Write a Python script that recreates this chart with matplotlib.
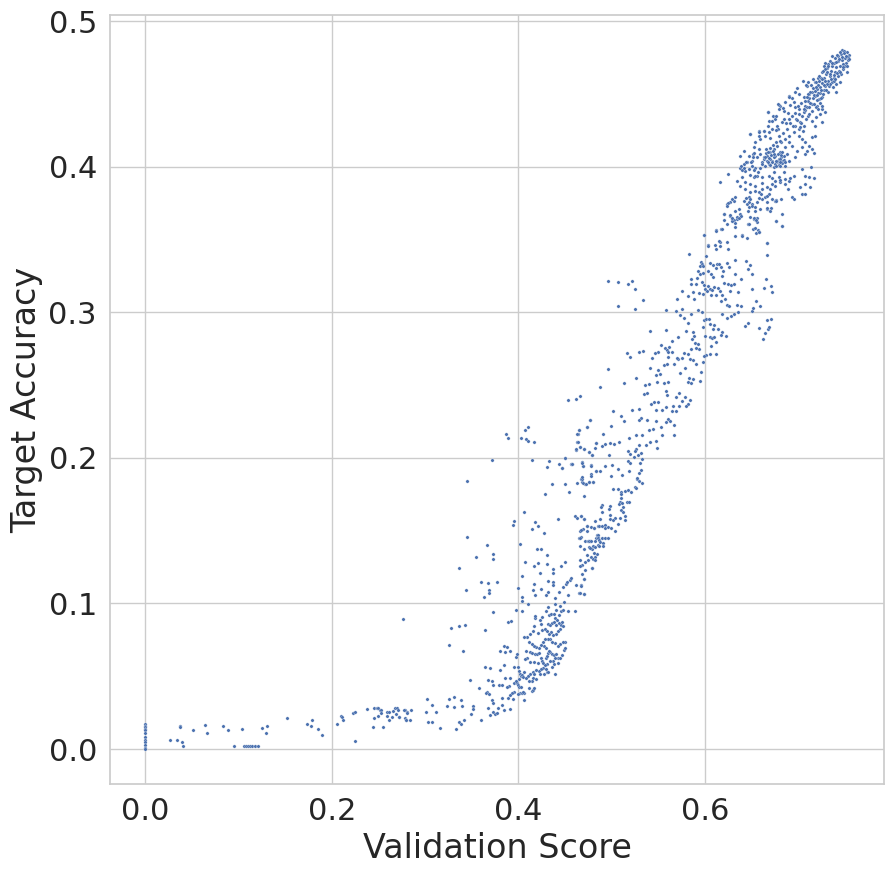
import matplotlib
matplotlib.use("Agg")
import matplotlib.pyplot as plt
import numpy as np
import seaborn as sns

# (validation score, target accuracy) pairs, grouped by region

# runs stuck at zero validation score
zero_score_acc = [0.017, 0.016, 0.015, 0.014, 0.013, 0.011, 0.008, 0.006, 0.005, 0.003, 0.001, 0.000]

low_tail = [
    (0.026, 0.006), (0.034, 0.006), (0.0375, 0.016), (0.0375, 0.015), (0.039, 0.0046), (0.040, 0.002),
    (0.051, 0.0128), (0.0636, 0.0162), (0.0657, 0.0108), (0.083, 0.016), (0.089, 0.0128), (0.0946, 0.002),
    (0.104, 0.0135), (0.106, 0.002), (0.108, 0.002), (0.110, 0.002), (0.112, 0.002), (0.114, 0.002),
    (0.118, 0.002), (0.121, 0.002), (0.1246, 0.0142), (0.129, 0.0108), (0.131, 0.016), (0.152, 0.021),
    (0.173, 0.017), (0.178, 0.0156), (0.179, 0.0197), (0.185, 0.0135), (0.189, 0.0094), (0.206, 0.017),
    (0.210, 0.0224), (0.211, 0.0217), (0.2125, 0.0197), (0.223, 0.0245), (0.225, 0.0252), (0.225, 0.0053),
    (0.238, 0.0272), (0.2446, 0.0149), (0.2457, 0.028), (0.248, 0.028), (0.250, 0.028), (0.252, 0.027),
    (0.253, 0.027), (0.2457, 0.021), (0.249, 0.0224), (0.253, 0.0245), (0.255, 0.0149), (0.2596, 0.0252),
    (0.2617, 0.0252), (0.2596, 0.0224), (0.2617, 0.020), (0.264, 0.0217), (0.266, 0.0259), (0.268, 0.028),
    (0.270, 0.028), (0.271, 0.027), (0.269, 0.0238), (0.272, 0.0217), (0.2767, 0.089), (0.278, 0.0265),
    (0.281, 0.0252), (0.278, 0.021), (0.280, 0.020),
    (0.3025, 0.0347), (0.3078, 0.0306), (0.3121, 0.0258), (0.3014, 0.0258), (0.3260, 0.0347), (0.3314, 0.0361),
    (0.3389, 0.034), (0.3399, 0.0299), (0.3239, 0.0299), (0.3314, 0.0286), (0.3517, 0.0299), (0.3517, 0.0272),
    (0.3496, 0.0238), (0.3421, 0.0203), (0.3367, 0.0189), (0.3389, 0.0169), (0.3335, 0.0135), (0.3164, 0.0148),
    (0.3078, 0.0183), (0.3035, 0.0189), (0.3603, 0.0203), (0.2853, 0.0265), (0.2810, 0.0251), (0.2778, 0.0265),
    (0.2800, 0.0203), (0.2842, 0.0203), (0.2721, 0.0217),
]

knee = [
    (0.372, 0.0334), (0.3731, 0.0313), (0.3678, 0.0279), (0.3731, 0.0258), (0.3753, 0.0244), (0.3774, 0.0251),
    (0.3699, 0.0231), (0.3828, 0.0354), (0.3828, 0.0306), (0.3892, 0.0354), (0.3903, 0.0436), (0.3882, 0.0423),
    (0.3860, 0.0491), (0.3914, 0.0491), (0.3957, 0.0457), (0.3946, 0.0347), (0.3849, 0.0265), (0.3914, 0.0272),
    (0.3785, 0.0279), (0.3582, 0.0416), (0.3678, 0.0477), (0.372, 0.047), (0.3667, 0.0395), (0.3657, 0.0388),
    (0.369, 0.0375), (0.373, 0.0437), (0.3796, 0.0443), (0.3828, 0.0443), (0.3485, 0.0477), (0.3646, 0.0567),
    (0.37, 0.056), (0.385, 0.0574), (0.3806, 0.0546), (0.326, 0.0718), (0.341, 0.0677), (0.3806, 0.0677),
    (0.3849, 0.0711), (0.3881, 0.0704), (0.386, 0.067), (0.3914, 0.0677), (0.3282, 0.0834), (0.3367, 0.0848),
    (0.3432, 0.0855), (0.3646, 0.0821), (0.3732, 0.094), (0.3892, 0.0875), (0.3924, 0.0882),
    (0.3978, 0.0635), (0.3989, 0.0656), (0.4, 0.0567), (0.4010, 0.0539), (0.4021, 0.0519), (0.4031, 0.0505),
    (0.4042, 0.0512), (0.4053, 0.0498), (0.4064, 0.0532), (0.4010, 0.0484), (0.3989, 0.0457), (0.4, 0.0443),
    (0.4010, 0.0423), (0.4021, 0.0382), (0.4042, 0.0382), (0.4064, 0.0382), (0.4053, 0.0395), (0.4, 0.0375),
    (0.4064, 0.0334), (0.3978, 0.047), (0.4085, 0.0677), (0.4128, 0.067), (0.4149, 0.0663), (0.4181, 0.0656),
    (0.4203, 0.0656), (0.4224, 0.0663), (0.4096, 0.0628), (0.4074, 0.0622), (0.4128, 0.0601), (0.4171, 0.0601),
    (0.4214, 0.0594), (0.4246, 0.0628), (0.4256, 0.0608), (0.4267, 0.0594), (0.4299, 0.0628), (0.431, 0.0642),
    (0.4321, 0.0663), (0.4342, 0.067), (0.4364, 0.0656), (0.4385, 0.0649), (0.4406, 0.0656), (0.4428, 0.0628),
    (0.4396, 0.0628), (0.4374, 0.0608), (0.4342, 0.0608), (0.431, 0.0587), (0.4289, 0.0574), (0.4267, 0.056),
    (0.4246, 0.0553), (0.4224, 0.0539), (0.4192, 0.0546), (0.416, 0.0532), (0.4128, 0.0519), (0.4107, 0.0505),
    (0.4085, 0.0491), (0.416, 0.0491), (0.4192, 0.0484), (0.4171, 0.0519), (0.4149, 0.047), (0.4117, 0.047),
    (0.4235, 0.0519), (0.4278, 0.0519), (0.431, 0.0526), (0.4299, 0.0553), (0.4321, 0.0532), (0.4364, 0.0567),
    (0.4385, 0.0587), (0.4396, 0.0519), (0.4428, 0.0594), (0.4449, 0.0628), (0.4471, 0.0649), (0.4492, 0.0683),
    (0.4503, 0.0697), (0.4503, 0.0738), (0.4481, 0.0738), (0.4449, 0.0724), (0.4428, 0.0711), (0.4396, 0.0731),
    (0.4364, 0.0738), (0.4342, 0.0759), (0.4321, 0.0759), (0.4289, 0.0759), (0.4267, 0.0738), (0.4278, 0.0711),
    (0.4299, 0.0697), (0.4331, 0.0677), (0.4246, 0.0718), (0.4224, 0.0697), (0.4192, 0.0704), (0.4171, 0.0711),
    (0.4149, 0.0724), (0.4117, 0.0738), (0.4096, 0.0773), (0.4064, 0.0773), (0.4128, 0.0793), (0.416, 0.0814),
    (0.4214, 0.08), (0.4256, 0.0821), (0.4289, 0.0827), (0.4321, 0.0862), (0.4342, 0.0855), (0.4364, 0.0869),
    (0.4385, 0.0875), (0.4406, 0.0855), (0.4439, 0.0869), (0.446, 0.0855), (0.4471, 0.0875), (0.4481, 0.0848),
    (0.4449, 0.0827), (0.4428, 0.0814), (0.4406, 0.0793), (0.4374, 0.0786), (0.4353, 0.0807), (0.4331, 0.0793),
    (0.431, 0.0814), (0.4246, 0.0862), (0.4235, 0.0889), (0.4181, 0.0903), (0.4181, 0.0917), (0.4171, 0.0848),
    (0.4256, 0.091), (0.4299, 0.0951), (0.4321, 0.0978), (0.4331, 0.0923), (0.4353, 0.093), (0.4385, 0.093),
    (0.4396, 0.0903), (0.4417, 0.0889), (0.4439, 0.0923), (0.4406, 0.0958), (0.446, 0.0951), (0.4149, 0.0402),
    (0.416, 0.0409), (0.4171, 0.0416), (0.4117, 0.0416), (0.4031, 0.0429), (0.3957, 0.0395), (0.3935, 0.0382),
    (0.3914, 0.0368), (0.3957, 0.0567),
]

lower_rise = [
    (0.387, 0.2167), (0.389, 0.2137), (0.403, 0.2137), (0.4074, 0.2192), (0.4107, 0.2213), (0.4085, 0.213),
    (0.4107, 0.2117), (0.417, 0.211), (0.372, 0.1986), (0.415, 0.1986), (0.3453, 0.1843), (0.4306, 0.1938),
    (0.433, 0.198), (0.444, 0.1959), (0.447, 0.1932), (0.450, 0.2), (0.4567, 0.1959), (0.458, 0.1959),
    (0.462, 0.2055), (0.463, 0.211), (0.465, 0.2192), (0.4664, 0.2076), (0.4642, 0.2165), (0.4706, 0.2062),
    (0.474, 0.2213), (0.476, 0.2041), (0.477, 0.2261), (0.479, 0.202), (0.4835, 0.2103), (0.4835, 0.1911),
    (0.4685, 0.1973), (0.4696, 0.1945), (0.478, 0.1952), (0.478, 0.189), (0.436, 0.1822), (0.450, 0.1822),
    (0.4546, 0.1767), (0.4289, 0.1753), (0.463, 0.1829), (0.4674, 0.1856), (0.4685, 0.1836), (0.4717, 0.1822),
    (0.476, 0.1836), (0.4803, 0.1836), (0.4706, 0.174), (0.4064, 0.163), (0.3957, 0.1568), (0.3946, 0.154),
    (0.4181, 0.1561), (0.4214, 0.1534), (0.415, 0.1513), (0.4278, 0.1486), (0.4428, 0.1582), (0.461, 0.1602),
    (0.463, 0.1589), (0.4674, 0.1602), (0.4706, 0.1582), (0.4738, 0.1534), (0.4664, 0.15), (0.4696, 0.1513),
    (0.478, 0.1527), (0.4813, 0.152), (0.4856, 0.1534), (0.4653, 0.1452), (0.4674, 0.1458), (0.4717, 0.1431),
    (0.4749, 0.1431), (0.477, 0.1431), (0.4792, 0.1376), (0.4803, 0.1397), (0.4835, 0.1452), (0.4846, 0.1472),
    (0.4856, 0.1458), (0.3453, 0.1458), (0.3667, 0.1403), (0.3732, 0.1342), (0.3732, 0.1308), (0.355, 0.1321),
    (0.3367, 0.1246), (0.3442, 0.1095), (0.3603, 0.115), (0.3678, 0.1143), (0.3774, 0.115), (0.3689, 0.1095),
    (0.3689, 0.1074), (0.3635, 0.1047), (0.4021, 0.141), (0.4, 0.1109), (0.4042, 0.1191), (0.4074, 0.1287),
    (0.4171, 0.1259), (0.4214, 0.128), (0.4203, 0.1376), (0.4246, 0.1376), (0.431, 0.1335), (0.431, 0.1273),
    (0.4235, 0.1211), (0.4321, 0.1157), (0.4374, 0.1239), (0.4374, 0.1211), (0.4374, 0.115), (0.4374, 0.1129),
    (0.446, 0.126), (0.45, 0.1287), (0.417, 0.1136), (0.416, 0.1095), (0.4181, 0.106), (0.4246, 0.1102),
    (0.4299, 0.106), (0.432, 0.1081), (0.4042, 0.1047), (0.4042, 0.102), (0.4107, 0.0999), (0.3978, 0.0958),
    (0.4042, 0.0951), (0.4481, 0.1116), (0.4514, 0.1136), (0.4557, 0.1163), (0.4567, 0.1177), (0.4524, 0.115),
    (0.4439, 0.1081), (0.4535, 0.106), (0.4492, 0.1013), (0.4396, 0.104), (0.462, 0.1129), (0.4674, 0.1129),
    (0.4706, 0.1067), (0.4653, 0.1074), (0.4706, 0.117), (0.4664, 0.13), (0.4685, 0.1266), (0.4738, 0.1335),
    (0.476, 0.139), (0.479, 0.1246), (0.4824, 0.1321), (0.4845, 0.1342), (0.4856, 0.1401), (0.4824, 0.1431),
    (0.445, 0.0985), (0.4481, 0.0958), (0.4535, 0.0951), (0.461, 0.0951), (0.4396, 0.0996),
    (0.4685, 0.1856), (0.4695, 0.1829), (0.4728, 0.1822), (0.476, 0.1836), (0.4803, 0.1836), (0.5017, 0.1788),
    (0.5070, 0.1788), (0.5102, 0.1767), (0.5102, 0.1753), (0.5145, 0.1774), (0.5177, 0.1781), (0.5210, 0.1767),
    (0.5252, 0.1802), (0.5263, 0.1795), (0.5327, 0.1829), (0.5295, 0.1843), (0.5274, 0.1856), (0.5102, 0.1726),
    (0.5092, 0.1699), (0.5081, 0.1685), (0.5113, 0.1692), (0.5167, 0.1699), (0.5188, 0.1699), (0.5124, 0.1664),
    (0.5102, 0.1644), (0.5124, 0.163), (0.5145, 0.1603), (0.5145, 0.1575), (0.5092, 0.1589), (0.5038, 0.1589),
    (0.507, 0.1548), (0.4985, 0.1671), (0.4974, 0.1651), (0.4985, 0.161), (0.4985, 0.1582), (0.5017, 0.1575),
    (0.4899, 0.1678), (0.4888, 0.1664), (0.4899, 0.163), (0.4674, 0.1603), (0.4706, 0.1582), (0.4824, 0.1568),
    (0.4878, 0.1582), (0.4813, 0.152), (0.4867, 0.1534), (0.4899, 0.1534), (0.4931, 0.1541), (0.4931, 0.152),
    (0.4963, 0.1527), (0.4995, 0.152), (0.5038, 0.15), (0.4674, 0.1507), (0.4738, 0.15), (0.4738, 0.1534),
    (0.4663, 0.1452), (0.476, 0.1431), (0.4781, 0.1431), (0.4856, 0.1472), (0.4856, 0.1452), (0.4867, 0.1438),
    (0.4899, 0.1452), (0.4931, 0.1452), (0.4963, 0.1452), (0.4878, 0.1424), (0.4910, 0.1417), (0.4867, 0.1397),
    (0.4910, 0.1397), (0.4824, 0.139), (0.477, 0.1383), (0.4706, 0.1376), (0.4663, 0.1397), (0.4813, 0.1349),
    (0.4781, 0.1321), (0.4749, 0.1301), (0.4717, 0.1287), (0.4803, 0.1308), (0.4824, 0.1301), (0.4663, 0.126),
    (0.4717, 0.1232), (0.4792, 0.1246), (0.4685, 0.1205), (0.4706, 0.1171), (0.4674, 0.1123), (0.4663, 0.1075),
    (0.4706, 0.1068),
]

mid_band = [
    (0.6206, 0.3633), (0.6292, 0.3642), (0.6313, 0.3633), (0.6345, 0.3642), (0.6324, 0.3612), (0.6527, 0.3642),
    (0.6463, 0.3605), (0.6517, 0.3571), (0.656, 0.3619), (0.657, 0.3564), (0.6549, 0.3544), (0.6581, 0.3551),
    (0.6763, 0.3626), (0.6827, 0.3592), (0.5992, 0.353), (0.612, 0.3564), (0.6174, 0.3571), (0.6324, 0.3523),
    (0.6399, 0.353), (0.6453, 0.351), (0.6163, 0.3482), (0.6238, 0.3482), (0.6163, 0.3455), (0.612, 0.3434),
    (0.6249, 0.3434), (0.6035, 0.3461), (0.5831, 0.34), (0.6013, 0.3386), (0.6667, 0.3475), (0.6667, 0.3393),
    (0.6324, 0.3358), (0.6442, 0.3352), (0.6485, 0.3324), (0.6463, 0.3297), (0.6506, 0.3262), (0.596, 0.3345),
    (0.5971, 0.3331), (0.595, 0.3317), (0.5981, 0.3317), (0.5928, 0.3283), (0.595, 0.3262), (0.5981, 0.3269),
    (0.6035, 0.3283), (0.6056, 0.3338), (0.6088, 0.3324), (0.613, 0.3331), (0.6153, 0.3331), (0.6174, 0.331),
    (0.6195, 0.3283), (0.626, 0.331), (0.6238, 0.3338), (0.612, 0.3304), (0.6067, 0.3262), (0.6088, 0.3242),
    (0.6185, 0.3249), (0.6206, 0.3201), (0.625, 0.3194), (0.628, 0.3187), (0.6313, 0.3194), (0.6324, 0.3262),
    (0.6388, 0.3228), (0.5917, 0.3235), (0.5853, 0.3228), (0.5853, 0.3194), (0.5906, 0.3194), (0.5971, 0.3208),
    (0.5992, 0.3187), (0.6003, 0.316), (0.6035, 0.3180), (0.6056, 0.316), (0.6078, 0.3153), (0.6099, 0.3173),
    (0.6142, 0.3166), (0.6163, 0.3146), (0.6185, 0.3118), (0.612, 0.3118), (0.6067, 0.3118), (0.6024, 0.3146),
    (0.5981, 0.3125), (0.5938, 0.3132), (0.5874, 0.3139), (0.582, 0.3112), (0.5885, 0.3091), (0.5756, 0.3146),
    (0.5703, 0.3091), (0.627, 0.3146), (0.6217, 0.3091), (0.6174, 0.3077), (0.6238, 0.3050), (0.626, 0.3043),
    (0.6345, 0.305), (0.6388, 0.3043), (0.6356, 0.3139), (0.6506, 0.316), (0.6549, 0.3077), (0.6592, 0.3043),
    (0.6656, 0.3228), (0.671, 0.3180), (0.672, 0.3139), (0.6635, 0.3166), (0.6506, 0.3009), (0.6517, 0.303),
    (0.6667, 0.2947), (0.671, 0.2954), (0.6677, 0.2885), (0.6688, 0.2899), (0.6646, 0.2858), (0.6624, 0.2817),
    (0.6581, 0.2892), (0.6463, 0.2926), (0.6431, 0.2906), (0.6185, 0.2988), (0.6238, 0.2961), (0.628, 0.2974),
    (0.6313, 0.2988), (0.6356, 0.3002), (0.6056, 0.292), (0.6099, 0.2913), (0.6088, 0.2885), (0.6142, 0.2885),
    (0.6185, 0.2865), (0.6228, 0.2837), (0.6174, 0.2844), (0.6056, 0.2830), (0.6078, 0.2824), (0.6099, 0.283),
    (0.612, 0.2796), (0.6067, 0.2769), (0.612, 0.2714), (0.6056, 0.2714), (0.6013, 0.2707), (0.5992, 0.27),
    (0.5981, 0.2659), (0.6003, 0.2837), (0.5981, 0.2899), (0.5992, 0.2947), (0.6013, 0.2954), (0.6045, 0.2954),
    (0.5971, 0.3002), (0.5928, 0.3016), (0.5853, 0.2988), (0.582, 0.2926), (0.5799, 0.2872), (0.5874, 0.2865),
    (0.5885, 0.2837), (0.5863, 0.2817), (0.5896, 0.2789), (0.5928, 0.2782), (0.5938, 0.2748), (0.5906, 0.2755),
    (0.5853, 0.2748), (0.582, 0.2714), (0.5778, 0.2721), (0.5756, 0.2686), (0.5713, 0.2679), (0.567, 0.2645),
    (0.5735, 0.2583), (0.5788, 0.2618), (0.5842, 0.2679), (0.5874, 0.2673), (0.5906, 0.2645), (0.596, 0.259),
    (0.595, 0.2529), (0.5874, 0.2542), (0.5831, 0.2549), (0.582, 0.2522), (0.5853, 0.2515), (0.4963, 0.3214),
    (0.507, 0.3208), (0.5178, 0.3194), (0.522, 0.3214), (0.5253, 0.316), (0.5338, 0.3084), (0.507, 0.3043),
    (0.5253, 0.3022), (0.5585, 0.3016), (0.5692, 0.3009), (0.5735, 0.2981), (0.5756, 0.3022), (0.5778, 0.2961),
    (0.5413, 0.2872), (0.5585, 0.2878), (0.5649, 0.2803), (0.5713, 0.283), (0.5617, 0.2762), (0.5574, 0.2755),
    (0.5596, 0.2741), (0.5531, 0.2775), (0.5606, 0.2727), (0.5649, 0.2727), (0.5703, 0.2686), (0.5606, 0.2693),
    (0.5563, 0.2638), (0.5596, 0.2645), (0.5499, 0.2727), (0.5467, 0.2721), (0.5435, 0.2686), (0.5338, 0.2734),
    (0.5296, 0.2727), (0.5167, 0.2721), (0.5199, 0.2693), (0.4963, 0.2611), (0.5413, 0.2618), (0.5499, 0.2604),
    (0.5521, 0.2577), (0.5478, 0.257), (0.5488, 0.2522), (0.5563, 0.2515), (0.5606, 0.2522), (0.5263, 0.2549),
    (0.5135, 0.2515), (0.4878, 0.2487), (0.536, 0.2501), (0.5403, 0.2508), (0.5349, 0.2439), (0.5381, 0.2446),
    (0.5585, 0.246), (0.5596, 0.2433), (0.5724, 0.2446), (0.5692, 0.2419), (0.5756, 0.2391), (0.5788, 0.2419),
    (0.5842, 0.2398), (0.582, 0.2371), (0.5799, 0.2357), (0.5724, 0.2357), (0.566, 0.2357), (0.5692, 0.2323),
    (0.5649, 0.2323), (0.5585, 0.235), (0.5606, 0.2268), (0.5628, 0.2254), (0.5585, 0.2247), (0.567, 0.2227),
    (0.567, 0.2158), (0.5531, 0.2213), (0.5478, 0.2254), (0.5542, 0.2158), (0.5478, 0.2117), (0.5488, 0.2069),
    (0.5381, 0.2261), (0.5317, 0.2275), (0.5296, 0.2261), (0.5446, 0.2199), (0.5403, 0.2192), (0.5328, 0.2158),
    (0.5263, 0.2158), (0.5188, 0.2138), (0.5413, 0.211), (0.5371, 0.2089), (0.5296, 0.2089), (0.5263, 0.2062),
    (0.5253, 0.2048), (0.5285, 0.2021), (0.5317, 0.2035), (0.5328, 0.1994), (0.5178, 0.2048), (0.5199, 0.2028),
    (0.5242, 0.2007), (0.5178, 0.198), (0.5135, 0.2254), (0.5103, 0.2289), (0.5017, 0.2323), (0.522, 0.2329),
    (0.5296, 0.2337), (0.5424, 0.2371), (0.5478, 0.233), (0.5542, 0.233), (0.5499, 0.2385), (0.5456, 0.2385),
    (0.4996, 0.222), (0.491, 0.2165), (0.4835, 0.2103), (0.4824, 0.2069), (0.476, 0.2042), (0.4792, 0.2021),
    (0.4706, 0.2062), (0.4664, 0.2076), (0.4642, 0.211), (0.4621, 0.2062), (0.4653, 0.2192), (0.4631, 0.2165),
    (0.4739, 0.2213), (0.4771, 0.2261), (0.4899, 0.2083), (0.4931, 0.2097), (0.4985, 0.2103), (0.5028, 0.2097),
    (0.5081, 0.211), (0.4974, 0.2021), (0.4931, 0.1946), (0.5006, 0.1952), (0.5071, 0.1925), (0.4996, 0.1877),
    (0.5113, 0.1884), (0.5188, 0.1911), (0.5199, 0.1966), (0.5306, 0.1966), (0.5317, 0.1918), (0.5296, 0.1898),
    (0.5274, 0.1863), (0.4878, 0.1911), (0.4835, 0.1911), (0.4781, 0.1946), (0.4696, 0.1946), (0.4685, 0.1966),
    (0.4578, 0.1959), (0.4503, 0.2), (0.4471, 0.1932), (0.4535, 0.2398), (0.4621, 0.2405), (0.4664, 0.2426),
    (0.4781, 0.1877), (0.4685, 0.187),
]

upper_band = [
    (0.7052, 0.4586), (0.718, 0.4579), (0.7213, 0.4607), (0.7095, 0.4552), (0.6988, 0.4538), (0.6966, 0.4511),
    (0.6902, 0.4483), (0.6934, 0.4469), (0.7009, 0.4497), (0.7063, 0.4476), (0.7116, 0.4497), (0.7148, 0.4511),
    (0.7184, 0.4488), (0.722, 0.4465), (0.7255, 0.4476), (0.7105, 0.4453), (0.7148, 0.443), (0.7202, 0.4419),
    (0.7255, 0.4396), (0.7291, 0.4378), (0.7234, 0.4362), (0.7191, 0.4339), (0.7148, 0.4316), (0.7105, 0.4346),
    (0.7059, 0.4373), (0.7013, 0.4396), (0.697, 0.4408), (0.6916, 0.4424), (0.6863, 0.4447), (0.6809, 0.4419),
    (0.6791, 0.4396), (0.6845, 0.4385), (0.6891, 0.4369), (0.6934, 0.4346), (0.6977, 0.4328), (0.7023, 0.431),
    (0.7059, 0.4282), (0.7005, 0.4259), (0.6952, 0.4236), (0.6898, 0.4213), (0.6863, 0.4191), (0.682, 0.4168),
    (0.6773, 0.4145), (0.6738, 0.4122), (0.6702, 0.4099), (0.6666, 0.4076), (0.6756, 0.4076), (0.6791, 0.4053),
    (0.6827, 0.4042), (0.6773, 0.403), (0.672, 0.4042), (0.6684, 0.4019), (0.6648, 0.4008), (0.6613, 0.403),
    (0.6631, 0.4053), (0.6595, 0.4088), (0.6577, 0.4122), (0.6523, 0.4133), (0.6541, 0.4168), (0.6595, 0.4191),
    (0.6641, 0.4213), (0.6684, 0.4236), (0.672, 0.4259), (0.6773, 0.4282), (0.6827, 0.4305), (0.685, 0.4328),
    (0.6916, 0.43), (0.6963, 0.4282), (0.7005, 0.4213), (0.7041, 0.4191), (0.7077, 0.4168), (0.7113, 0.4145),
    (0.7148, 0.4202), (0.7184, 0.4213), (0.7148, 0.4122), (0.7095, 0.4111), (0.7041, 0.4133), (0.6988, 0.4111),
    (0.6934, 0.4145), (0.6898, 0.4168), (0.6856, 0.4133), (0.6809, 0.4099), (0.697, 0.4065), (0.6898, 0.4042),
    (0.6863, 0.4008), (0.6577, 0.4248), (0.6631, 0.4248), (0.6677, 0.4277), (0.6684, 0.4316), (0.6727, 0.4346),
    (0.6756, 0.4328), (0.6677, 0.4378), (0.6791, 0.4424), (0.6784, 0.4259), (0.6577, 0.4213), (0.6488, 0.4225),
    (0.6513, 0.4088), (0.6477, 0.4076), (0.6416, 0.4019), (0.6381, 0.4076), (0.6452, 0.403), (0.6506, 0.4042),
    (0.6559, 0.4065), (0.682, 0.4065), (0.6845, 0.4076), (0.6881, 0.4088), (0.7077, 0.4088), (0.7166, 0.4094),
    (0.7255, 0.4305), (0.7184, 0.4282), (0.7052, 0.4248), (0.7005, 0.4362), (0.6898, 0.4476), (0.6834, 0.4401),
    (0.6952, 0.4442), (0.707, 0.4419), (0.6738, 0.4065), (0.6773, 0.4042), (0.6809, 0.4053), (0.6756, 0.4019),
    (0.6791, 0.4012), (0.6827, 0.4026), (0.672, 0.403), (0.6702, 0.4053),
    (0.6248, 0.3948), (0.6163, 0.3893), (0.6381, 0.399), (0.6434, 0.3973), (0.6477, 0.3985), (0.6541, 0.399),
    (0.6559, 0.3939), (0.6523, 0.3928), (0.6613, 0.3928), (0.6684, 0.3939), (0.6738, 0.3966), (0.6791, 0.3928),
    (0.6845, 0.3962), (0.6898, 0.3905), (0.6952, 0.3939), (0.7041, 0.3985), (0.7141, 0.3996), (0.7077, 0.3939),
    (0.7113, 0.3928), (0.7166, 0.3921), (0.707, 0.3882), (0.7131, 0.3859), (0.7023, 0.3859), (0.7041, 0.3813),
    (0.707, 0.3813), (0.6934, 0.379), (0.6952, 0.3779), (0.6863, 0.3882), (0.6809, 0.3893), (0.6756, 0.3905),
    (0.672, 0.3882), (0.6666, 0.3859), (0.6613, 0.3848), (0.6577, 0.3825), (0.6541, 0.3871), (0.6488, 0.3882),
    (0.6434, 0.3893), (0.6398, 0.3928), (0.6345, 0.3905), (0.6381, 0.3871), (0.6434, 0.3848), (0.6488, 0.3825),
    (0.647, 0.379), (0.6416, 0.3768), (0.6452, 0.3745), (0.6506, 0.3745), (0.6559, 0.3756), (0.6613, 0.3779),
    (0.6648, 0.379), (0.6684, 0.3813), (0.672, 0.3779), (0.6756, 0.3768), (0.6666, 0.3756), (0.6595, 0.371),
    (0.6541, 0.3699), (0.647, 0.3722), (0.6363, 0.371), (0.6309, 0.3768), (0.6273, 0.3756), (0.6238, 0.3745),
    (0.6327, 0.3699), (0.6381, 0.3676), (0.6345, 0.3653), (0.6273, 0.3665), (0.6202, 0.3676), (0.6291, 0.363),
    (0.6238, 0.3608), (0.6184, 0.3569), (0.612, 0.3562), (0.6148, 0.3493), (0.6113, 0.3464), (0.6034, 0.3459),
    (0.5991, 0.3532), (0.6327, 0.3585), (0.6398, 0.3527), (0.6488, 0.3653), (0.6523, 0.3642), (0.6559, 0.3646),
    (0.647, 0.3608), (0.6541, 0.3578), (0.6577, 0.3550), (0.6666, 0.3475), (0.6763, 0.3626), (0.6827, 0.3592),
    (0.6827, 0.3676), (0.6709, 0.3715), (0.6666, 0.371), (0.6763, 0.3774),
    (0.6388, 0.4003), (0.6398, 0.3976), (0.6420, 0.399), (0.6441, 0.4031), (0.6495, 0.4031), (0.6505, 0.4003),
    (0.6527, 0.3976), (0.6484, 0.3944), (0.6538, 0.3935), (0.657, 0.3962), (0.6591, 0.399), (0.6613, 0.4017),
    (0.6634, 0.4065), (0.6527, 0.4092), (0.6516, 0.4065), (0.642, 0.4106), (0.648, 0.4225), (0.658, 0.4236),
    (0.6634, 0.4245), (0.6677, 0.4374), (0.6720, 0.4316), (0.6763, 0.4346), (0.6784, 0.4428), (0.6248, 0.3749),
    (0.6291, 0.3779), (0.6327, 0.3795), (0.6238, 0.3729), (0.6206, 0.3674), (0.627, 0.3667), (0.6295, 0.3647),
    (0.6363, 0.3651), (0.6388, 0.3665), (0.6463, 0.3695), (0.6473, 0.3756), (0.6505, 0.3727), (0.6541, 0.3722),
    (0.6527, 0.3649), (0.6548, 0.3631), (0.6441, 0.3788), (0.6484, 0.3779), (0.6584, 0.3784), (0.6602, 0.3811),
    (0.6666, 0.3802), (0.6702, 0.3848), (0.6755, 0.3866), (0.6809, 0.3907), (0.6863, 0.3916), (0.6916, 0.3921),
    (0.6891, 0.3848), (0.682, 0.3779), (0.6766, 0.3763), (0.6666, 0.3717), (0.6702, 0.3699), (0.6541, 0.3836),
    (0.6613, 0.3889), (0.672, 0.3921),
    # dense blob just above 0.4
    (0.6640, 0.4065), (0.6660, 0.4040), (0.6690, 0.4060), (0.6710, 0.4080), (0.6745, 0.4090), (0.6780, 0.4085),
    (0.6815, 0.4080), (0.6845, 0.4045), (0.6860, 0.4030), (0.6680, 0.4030), (0.6700, 0.4010), (0.6735, 0.4000),
    (0.6765, 0.4005), (0.6805, 0.4005), (0.6650, 0.4095), (0.6725, 0.4110), (0.6690, 0.4100), (0.6760, 0.4040),
    (0.6800, 0.4030), (0.6830, 0.4100),
]

top_cluster = [
    (0.747, 0.4803), (0.7491, 0.4794), (0.7523, 0.4785), (0.7545, 0.4767), (0.7459, 0.4774), (0.7427, 0.4758),
    (0.7395, 0.4744), (0.7363, 0.4758), (0.7345, 0.4728), (0.7384, 0.4716), (0.7427, 0.4726), (0.747, 0.4735),
    (0.7502, 0.4744), (0.7534, 0.4753), (0.7513, 0.4716), (0.748, 0.4705), (0.7448, 0.4689), (0.7405, 0.4682),
    (0.7363, 0.4694), (0.732, 0.4705), (0.7291, 0.4716), (0.7277, 0.4694), (0.7309, 0.4675), (0.7352, 0.4659),
    (0.7395, 0.4648), (0.7438, 0.4659), (0.748, 0.467), (0.7459, 0.4636), (0.7427, 0.4620), (0.7384, 0.4613),
    (0.7341, 0.4625), (0.7298, 0.4636), (0.7255, 0.4648), (0.7277, 0.4607), (0.732, 0.4591), (0.7363, 0.4579),
    (0.7405, 0.4568), (0.7373, 0.4545), (0.733, 0.4552), (0.7291, 0.4556), (0.7255, 0.4575), (0.7234, 0.4545),
    (0.7277, 0.4529), (0.732, 0.4511), (0.7405, 0.4511), (0.7448, 0.4579), (0.7502, 0.4689), (0.7523, 0.4648),
    (0.7191, 0.4579), (0.7234, 0.4506), (0.7202, 0.4533),
    (0.7413, 0.4771), (0.7445, 0.4788), (0.7488, 0.4779), (0.7509, 0.4762), (0.7531, 0.4731), (0.7470, 0.4752),
    (0.7437, 0.4740), (0.7402, 0.4722), (0.7358, 0.4711), (0.7323, 0.4690), (0.7288, 0.4670), (0.7266, 0.4660),
    (0.7310, 0.4648), (0.7345, 0.4640), (0.7381, 0.4632), (0.7416, 0.4645), (0.7452, 0.4652), (0.7477, 0.4688),
    (0.7527, 0.4695), (0.7545, 0.4740), (0.7240, 0.4610), (0.7225, 0.4590), (0.7210, 0.4560), (0.7245, 0.4525),
    (0.7268, 0.4498), (0.7300, 0.4530), (0.7342, 0.4570), (0.7380, 0.4590), (0.7395, 0.4600), (0.7352, 0.4605),
    (0.7185, 0.4520), (0.7160, 0.4470), (0.7130, 0.4440), (0.7098, 0.4410), (0.7120, 0.4470), (0.7170, 0.4490),
    (0.7205, 0.4460), (0.7232, 0.4440), (0.7190, 0.4410), (0.7150, 0.4380), (0.7118, 0.4360), (0.7085, 0.4330),
    (0.7045, 0.4350), (0.7030, 0.4300), (0.7072, 0.4390), (0.7015, 0.4270), (0.6990, 0.4320), (0.6960, 0.4370),
    (0.6940, 0.4280), (0.6905, 0.4330), (0.6880, 0.4260), (0.6870, 0.4300), (0.6840, 0.4230), (0.6800, 0.4180),
    (0.6790, 0.4210), (0.6760, 0.4170), (0.6730, 0.4150), (0.6700, 0.4130), (0.6680, 0.4100), (0.6650, 0.4120),
    (0.6760, 0.4250), (0.6700, 0.4200),
    (0.7085, 0.4560), (0.7110, 0.4585), (0.7135, 0.4560), (0.7160, 0.4540), (0.7190, 0.4545), (0.7210, 0.4510),
    (0.7130, 0.4515), (0.7100, 0.4500), (0.7160, 0.4600), (0.7225, 0.4620), (0.7255, 0.4600), (0.7290, 0.4590),
    (0.7310, 0.4570), (0.7275, 0.4560), (0.7095, 0.4480), (0.7070, 0.4450), (0.7030, 0.4440), (0.7000, 0.4420),
    (0.7060, 0.4400), (0.7120, 0.4410), (0.7170, 0.4430), (0.7215, 0.4400), (0.7260, 0.4420), (0.7240, 0.4470),
    (0.7200, 0.4490),
]


def main() -> None:
    pairs = [(0.0, acc) for acc in zero_score_acc] + low_tail + knee + lower_rise + mid_band + upper_band + top_cluster
    pts = np.array(pairs)
    val_score, target_acc = pts[:, 0], pts[:, 1]

    sns.set_theme(style="whitegrid", font_scale=2)
    fig, ax = plt.subplots(figsize=(8.95, 8.76), dpi=100)
    sns.scatterplot(x=val_score, y=target_acc, s=6, ax=ax)
    ax.set_xlabel("Validation Score")
    ax.set_ylabel("Target Accuracy")
    ax.set_xticks([0.0, 0.2, 0.4, 0.6])
    ax.set_yticks([0.0, 0.1, 0.2, 0.3, 0.4, 0.5])
    fig.subplots_adjust(left=0.123, right=0.988, top=0.983, bottom=0.105)
    fig.savefig("out.png", dpi=100)
    plt.close(fig)


if __name__ == "__main__":
    main()
